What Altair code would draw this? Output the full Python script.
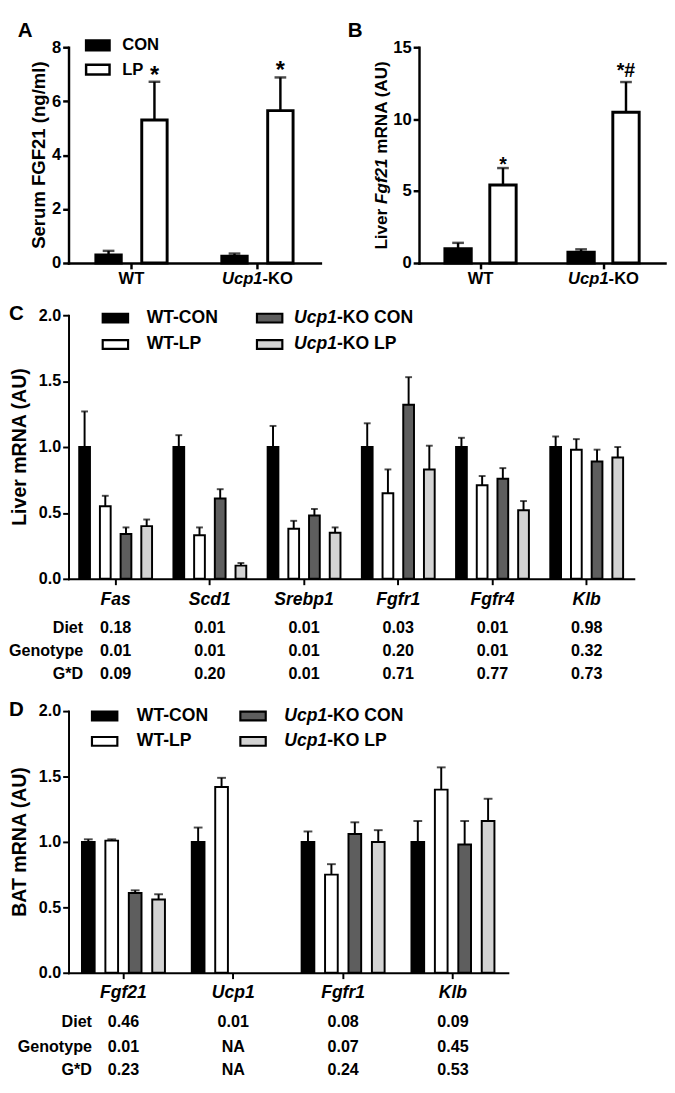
import altair as alt
import pandas as pd

FONT = "Liberation Sans"

# ---------------- Panel A / B data ----------------
genotypes = ["WT", "Ucp1-KO"]
diets = ["CON", "LP"]
ab_genotype = ["WT", "WT", "Ucp1-KO", "Ucp1-KO"]
ab_diet = ["CON", "LP", "CON", "LP"]
a_mean = [0.30, 5.30, 0.25, 5.65]
a_upper = [0.45, 6.72, 0.35, 6.88]
a_sig = ["", "*", "", "*"]
b_mean = [1.00, 5.42, 0.75, 10.48]
b_upper = [1.40, 6.60, 0.95, 12.58]
b_sig = ["", "*", "", "*#"]

# ---------------- Panel C / D data ----------------
groups = ["WT-CON", "WT-LP", "Ucp1-KO CON", "Ucp1-KO LP"]
group_fill = ["#000000", "#ffffff", "#5e5e5e", "#d3d3d3"]

c_genes = ["Fas", "Scd1", "Srebp1", "Fgfr1", "Fgfr4", "Klb"]
c_wt_con = [1.00, 1.00, 1.00, 1.00, 1.00, 1.00]
c_wt_con_up = [1.27, 1.09, 1.16, 1.18, 1.07, 1.08]
c_wt_lp = [0.55, 0.33, 0.38, 0.65, 0.71, 0.98]
c_wt_lp_up = [0.63, 0.39, 0.44, 0.83, 0.78, 1.06]
c_ko_con = [0.34, 0.61, 0.48, 1.32, 0.76, 0.89]
c_ko_con_up = [0.39, 0.68, 0.53, 1.53, 0.84, 0.98]
c_ko_lp = [0.40, 0.10, 0.35, 0.83, 0.52, 0.92]
c_ko_lp_up = [0.45, 0.12, 0.39, 1.01, 0.59, 1.00]
c_diet = ["0.18", "0.01", "0.01", "0.03", "0.01", "0.98"]
c_genotype = ["0.01", "0.01", "0.01", "0.20", "0.01", "0.32"]
c_gxd = ["0.09", "0.20", "0.01", "0.71", "0.77", "0.73"]

d_genes = ["Fgf21", "Ucp1", "Fgfr1", "Klb"]
d_wt_con = [1.00, 1.00, 1.00, 1.00]
d_wt_con_up = [1.02, 1.11, 1.08, 1.16]
d_wt_lp = [1.01, 1.42, 0.75, 1.40]
d_wt_lp_up = [1.02, 1.49, 0.83, 1.57]
d_ko_con = [0.61, None, 1.06, 0.98]
d_ko_con_up = [0.63, None, 1.15, 1.16]
d_ko_lp = [0.56, None, 1.00, 1.16]
d_ko_lp_up = [0.60, None, 1.09, 1.33]
d_diet = ["0.46", "0.01", "0.08", "0.09"]
d_genotype = ["0.01", "NA", "0.07", "0.45"]
d_gxd = ["0.23", "NA", "0.24", "0.53"]

stat_rows = ["Diet", "Genotype", "G*D"]

# Arial/Liberation bold advance widths (per 1000 em)
BOLD_W = {' ': 278, '(': 333, ')': 333, '-': 333, '1': 556, '2': 556, 'A': 722, 'C': 722,
          'F': 611, 'K': 722, 'L': 611, 'N': 722, 'O': 778, 'P': 667, 'R': 722, 'U': 722,
          'c': 556, 'e': 556, 'f': 333, 'g': 611, 'i': 278, 'm': 889, 'p': 611, 'r': 389,
          'v': 556, 'W': 944, 'T': 611}


def tw(s, fs):
    return sum(BOLD_W.get(ch, 556) for ch in s) / 1000.0 * fs


def label(s, x, y, fs, style="normal", align="center", baseline="middle", angle=None):
    kw = dict(font=FONT, fontSize=fs, fontWeight="bold", fontStyle=style,
              align=align, baseline=baseline, color="black")
    if angle is not None:
        kw["angle"] = angle
    return alt.Chart(pd.DataFrame({"t": [s]})).mark_text(**kw).encode(
        x=alt.value(x), y=alt.value(y), text="t:N")


def swatch(x0, x1, yc, h, fill, sw):
    return alt.Chart(pd.DataFrame({"t": [0]})).mark_rect(
        fill=fill, stroke="black", strokeWidth=sw).encode(
        x=alt.value(x0), x2=alt.value(x1), y=alt.value(yc - h / 2), y2=alt.value(yc + h / 2))


def yaxis(vals, fmt, fs, w):
    return alt.Axis(title=None, values=vals, format=fmt, grid=False,
                    domainColor="black", domainWidth=w, tickColor="black", tickWidth=w,
                    tickSize=6, labelFont=FONT, labelFontSize=fs, labelFontWeight="bold",
                    labelColor="black", labelPadding=2, domainCap="square")


def xaxis(w):
    return alt.Axis(title=None, labels=False, grid=False, domainColor="black",
                    domainWidth=w, tickColor="black", tickWidth=w, tickSize=6,
                    domainCap="square")


def bar_layers(df, field, cats, fills, X, Ym, Yu, step, bw, sw, cap_size, cap_w):
    out = []
    n = len(cats)
    for k, (cat, fill) in enumerate(zip(cats, fills)):
        dx = (k - (n - 1) / 2) * step
        sub = alt.Chart(df).transform_filter(alt.datum[field] == cat)
        out.append(sub.mark_rule(color="black", strokeWidth=cap_w, xOffset=dx).encode(
            x=X, y=Ym, y2="upper:Q"))
        out.append(sub.mark_tick(color="black", thickness=cap_w, size=cap_size,
                                 orient="horizontal", xOffset=dx).encode(x=X, y=Yu))
        out.append(sub.mark_bar(fill=fill, stroke="black", strokeWidth=sw, width=bw,
                                xOffset=dx).encode(x=X, y=Ym))
    return out


def pair_panel(mean, upper, sig, W, H, ymax, yvals, step, bw, star_fs, star_dy, star2_dy):
    df = pd.DataFrame({"geno": ab_genotype, "diet": ab_diet, "mean": mean,
                       "upper": upper, "sig": sig})
    X = alt.X("geno:N", sort=genotypes,
              scale=alt.Scale(domain=genotypes, paddingInner=0, paddingOuter=0), axis=xaxis(2.5))
    ysc = alt.Scale(domain=[0, ymax], nice=False)
    ax = yaxis(yvals, "d", 17, 2.5)
    Ym = alt.Y("mean:Q", scale=ysc, axis=ax)
    Yu = alt.Y("upper:Q", scale=ysc, axis=ax)
    layers = bar_layers(df, "diet", diets, ["#000000", "#ffffff"], X, Ym, Yu,
                        step, bw, 3, 12, 2.5)
    dx = step / 2
    base = alt.Chart(df).transform_filter(alt.datum.diet == "LP")
    layers.append(base.transform_filter("datum.sig == '*'").mark_text(
        font=FONT, fontSize=star_fs, fontWeight="bold", baseline="alphabetic", dy=star_dy,
        xOffset=dx, color="black").encode(x=X, y=Yu, text="sig:N"))
    layers.append(base.transform_filter("datum.sig == '*#'").mark_text(
        font=FONT, fontSize=star_fs, fontWeight="bold", baseline="alphabetic", dy=star2_dy,
        xOffset=dx, color="black").encode(x=X, y=Yu, text="sig:N"))
    # x labels
    fs = 17
    layers.append(alt.Chart(pd.DataFrame({"geno": ["WT"]})).mark_text(
        font=FONT, fontSize=fs, fontWeight="bold", color="black", baseline="middle").encode(
        x=X, y=alt.value(H + 17), text="geno:N"))
    it_w = tw("Ucp1", fs)
    split = -(it_w + tw("-KO", fs)) / 2 + it_w
    layers.append(alt.Chart(pd.DataFrame({"geno": ["Ucp1-KO"], "t": ["Ucp1"]})).mark_text(
        font=FONT, fontSize=fs, fontWeight="bold", fontStyle="italic", color="black",
        baseline="middle", align="right", dx=split).encode(x=X, y=alt.value(H + 17), text="t:N"))
    layers.append(alt.Chart(pd.DataFrame({"geno": ["Ucp1-KO"], "t": ["-KO"]})).mark_text(
        font=FONT, fontSize=fs, fontWeight="bold", color="black",
        baseline="middle", align="left", dx=split).encode(x=X, y=alt.value(H + 17), text="t:N"))
    return layers


def grouped_panel(genes, series, stats, W, H, step, bw, cap_size, lay):
    rows = []
    for g, (means, ups) in zip(groups, series):
        for gene, m, u in zip(genes, means, ups):
            if m is None:
                continue
            rows.append({"gene": gene, "group": g, "mean": m, "upper": u})
    df = pd.DataFrame(rows)
    X = alt.X("gene:N", sort=genes,
              scale=alt.Scale(domain=genes, paddingInner=0, paddingOuter=0), axis=xaxis(2))
    ysc = alt.Scale(domain=[0, 2], nice=False)
    ax = yaxis([0, 0.5, 1, 1.5, 2], ".1f", 16.5, 2)
    Ym = alt.Y("mean:Q", scale=ysc, axis=ax)
    Yu = alt.Y("upper:Q", scale=ysc, axis=ax)
    layers = bar_layers(df, "group", groups, group_fill, X, Ym, Yu, step, bw, 2, cap_size, 2)
    gdf = pd.DataFrame({"gene": genes})
    layers.append(alt.Chart(gdf).mark_text(
        font=FONT, fontSize=18, fontWeight="bold", fontStyle="italic", color="black",
        baseline="middle").encode(x=X, y=alt.value(H + lay["gene_y"]), text="gene:N"))
    for rname, vals, off in zip(stat_rows, stats, lay["row_y"]):
        sdf = pd.DataFrame({"gene": genes, "v": vals})
        layers.append(alt.Chart(sdf).mark_text(
            font=FONT, fontSize=16.5, fontWeight="bold", color="black", baseline="middle").encode(
            x=X, y=alt.value(H + off), text="v:N"))
        layers.append(label(rname, lay["row_x"], H + off, 16.5, align="right"))
    return layers


def legend4(lay, fs=18):
    out = []
    xs = lay["leg_rect_x"]
    txs = lay["leg_text_x"]
    ys = lay["leg_y"]
    rw, rh = 26, 9
    pos = [(0, 0), (0, 1), (1, 0), (1, 1)]
    for (c, r), g, f in zip(pos, groups, group_fill):
        out.append(swatch(xs[c], xs[c] + rw, ys[r], rh, f, 2.2))
        if g.startswith("Ucp1"):
            out.append(label("Ucp1", txs[c], ys[r], fs, style="italic", align="left"))
            out.append(label(g[4:], txs[c] + tw("Ucp1", fs), ys[r], fs, align="left"))
        else:
            out.append(label(g, txs[c], ys[r], fs, align="left"))
    return out


# ---------------- Panel A ----------------
WA, HA = 258, 221
A_layers = pair_panel(a_mean, a_upper, a_sig, WA, HA, 8, [0, 2, 4, 6, 8], 47, 26, 24, 1, -5)
A_layers += [
    label("A", -52, -27, 21, align="left", baseline="top"),
    label("Serum FGF21 (ng/ml)", -30, HA / 2, 19, angle=270),
    swatch(18, 42, -2, 10, "#000000", 2.5),
    swatch(18, 42, 23, 10, "#ffffff", 2.5),
    label("CON", 55, -2, 17, align="left"),
    label("LP", 55, 23, 17, align="left"),
]
panelA = alt.layer(*A_layers).properties(width=WA, height=HA)

# ---------------- Panel B ----------------
WB, HB = 252, 221
B_layers = pair_panel(b_mean, b_upper, b_sig, WB, HB, 15, [0, 5, 10, 15], 46, 27, 20, 3, -5)
tfs = 17.5
sp = tw(" ", tfs)
w1, w2, w3 = tw("Liver", tfs), tw("Fgf21", tfs), tw("mRNA (AU)", tfs)
start = HB / 2 + (w1 + w2 + w3 + 2 * sp) / 2
B_layers += [
    label("B", -73, -27, 21, align="left", baseline="top"),
    label("Liver", -38, start, tfs, align="left", angle=270),
    label("Fgf21", -38, start - w1 - sp, tfs, style="italic", align="left", angle=270),
    label("mRNA (AU)", -38, start - w1 - w2 - 2 * sp, tfs, align="left", angle=270),
]
panelB = alt.layer(*B_layers).properties(width=WB, height=HB)

# ---------------- Panel C ----------------
WC, HC = 579, 270
c_series = [(c_wt_con, c_wt_con_up), (c_wt_lp, c_wt_lp_up),
            (c_ko_con, c_ko_con_up), (c_ko_lp, c_ko_lp_up)]
layC = {"gene_y": 22, "row_y": [50, 74, 98], "row_x": 15,
        "leg_rect_x": [35, 193], "leg_text_x": [80, 231], "leg_y": [3, 30]}
C_layers = grouped_panel(c_genes, c_series, [c_diet, c_genotype, c_gxd], WC, HC,
                         21.2, 11, 7, layC)
C_layers += legend4(layC)
C_layers += [
    label("C", -61, -12, 21, align="left", baseline="top"),
    label("Liver mRNA (AU)", -50, HC / 2, 20, angle=270),
]
panelC = alt.layer(*C_layers).properties(width=WC, height=HC)

# ---------------- Panel D ----------------
WD, HD = 450, 268
d_series = [(d_wt_con, d_wt_con_up), (d_wt_lp, d_wt_lp_up),
            (d_ko_con, d_ko_con_up), (d_ko_lp, d_ko_lp_up)]
layD = {"gene_y": 21, "row_y": [51, 76, 100], "row_x": 24,
        "leg_rect_x": [24, 176], "leg_text_x": [70, 221], "leg_y": [5, 31]}
D_layers = grouped_panel(d_genes, d_series, [d_diet, d_genotype, d_gxd], WD, HD,
                         24, 13, 9, layD)
D_layers += legend4(layD)
D_layers += [
    label("D", -61, -12, 21, align="left", baseline="top"),
    label("BAT mRNA (AU)", -50, HD / 2, 20, angle=270),
]
panelD = alt.layer(*D_layers).properties(width=WD, height=HD)

row1 = alt.hconcat(panelA, panelB, spacing=28)
chart = alt.concat(row1, panelC, panelD, columns=1, align="none", spacing=16.5).properties(
    padding={"left": 0, "top": 0, "right": 2, "bottom": 2}
).configure_view(stroke=None)

chart.save("out.html", embed_options={"renderer": "svg", "actions": False})
